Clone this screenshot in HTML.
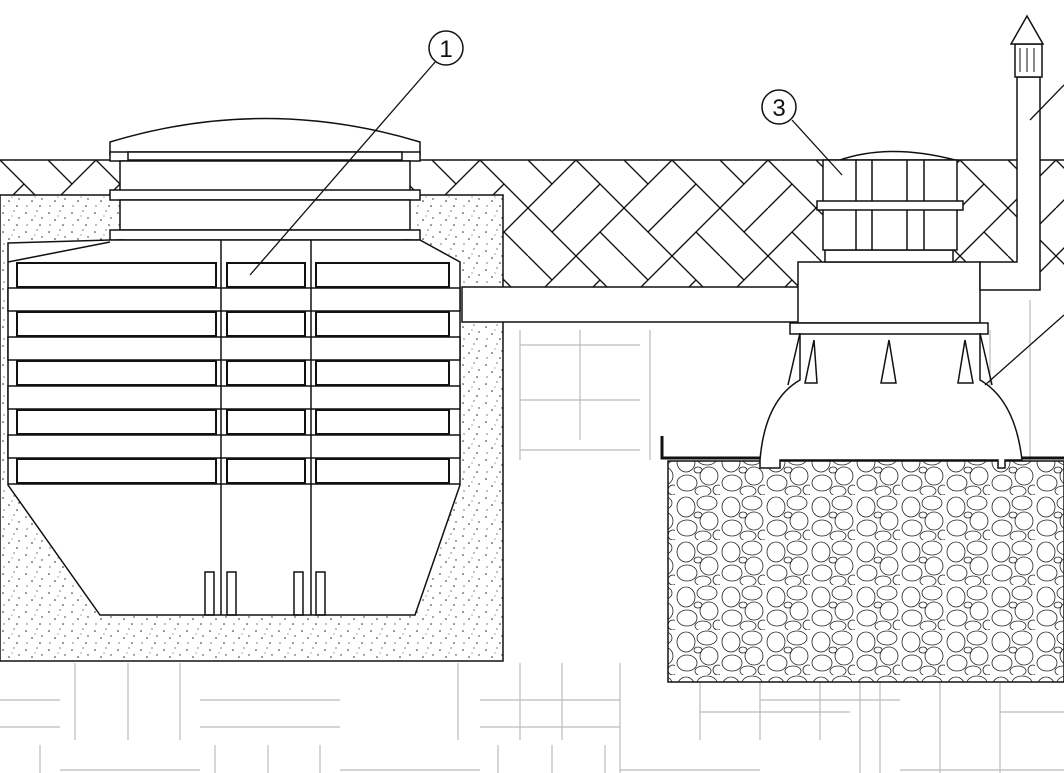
<!DOCTYPE html>
<html><head><meta charset="utf-8"><style>html,body{margin:0;padding:0;background:#fff}svg{display:block}</style></head>
<body>
<svg width="1064" height="773" viewBox="0 0 1064 773" xmlns="http://www.w3.org/2000/svg">
<defs>
<pattern id="herr" width="60" height="60" patternUnits="userSpaceOnUse" patternTransform="translate(0,160) scale(1.6)">
<g stroke="#111" stroke-width="0.85" fill="none">
<path d="M0 0 L30 30 L0 60 M30 30 L60 0 M30 30 L60 60 M15 15 L0 30 M45 15 L30 0 M45 45 L60 30 M15 45 L30 60"/>
</g>
</pattern>
<pattern id="dots" width="23" height="19" patternUnits="userSpaceOnUse">
<g fill="#222"><circle cx="3" cy="4" r="0.8"/><circle cx="14" cy="2" r="0.6"/><circle cx="9" cy="11" r="0.8"/><circle cx="19" cy="9" r="0.7"/><circle cx="4" cy="16" r="0.6"/><circle cx="17" cy="16" r="0.8"/><circle cx="12" cy="7" r="0.5"/></g>
</pattern>
<pattern id="stone" width="45" height="45" patternUnits="userSpaceOnUse">
<g stroke="#222" stroke-width="0.8" fill="none">
<ellipse cx="11" cy="12" rx="9" ry="10"/><ellipse cx="32" cy="8" rx="10" ry="7"/><ellipse cx="34" cy="26" rx="9" ry="9"/><ellipse cx="12" cy="33" rx="10" ry="8"/><ellipse cx="28" cy="41" rx="8" ry="5"/><ellipse cx="23" cy="20" rx="4" ry="3"/><ellipse cx="43" cy="40" rx="5" ry="5"/>
</g>
</pattern>
</defs>

<g stroke="#bbb" stroke-width="1.2">
<path d="M0 700H60M200 700H340M480 700H620M760 700H900M520 345H640M520 400H640M520 450H640M700 712H850M1000 712H1064M0 727H60M200 727H340M480 727H620M60 770H200M340 770H480M620 770H760M900 770H1064"/>
<path d="M75 663V740M128 663V740M180 663V740M458 663V740M520 663V740M562 663V740M620 663V773M700 682V740M760 682V740M820 682V740M880 682V773M40 745V773M215 745V773M268 745V773M320 745V773M498 745V773M552 745V773M605 745V773M650 330V460M580 330V440M520 330V460M860 682V773M940 682V773M1000 682V773M1030 300V460M990 330V460"/>
</g>

<rect x="0" y="160" width="1064" height="127" fill="url(#herr)"/>
<line x1="0" y1="160" x2="1064" y2="160" stroke="#111" stroke-width="1.5"/>

<rect x="0" y="195" width="503" height="466" fill="#fff"/>
<rect x="0" y="195" width="503" height="466" fill="url(#dots)" stroke="#111" stroke-width="1.5"/>

<rect x="462" y="287" width="340" height="35" fill="#fff" stroke="#111" stroke-width="1.5"/>

<g stroke="#111" stroke-width="1.5" fill="#fff">
<path d="M110 155 L110 142 Q265 95 420 142 L420 155 Z"/>
<rect x="110" y="152" width="310" height="9"/>
<rect x="128" y="152" width="274" height="8"/>
<rect x="120" y="161" width="290" height="30"/>
<rect x="110" y="190" width="310" height="10"/>
<rect x="120" y="200" width="290" height="30"/>
<rect x="110" y="230" width="310" height="10"/>
<rect x="118" y="240" width="6" height="10"/><rect x="403" y="240" width="6" height="10"/>
<path d="M8 243 L110 240 L420 240 L460 262 L460 485 L415 615 L100 615 L8 485 Z"/>
<path d="M8 262 L110 242" fill="none"/>
</g>
<g stroke="#111" stroke-width="1.5" fill="#fff">
<rect x="8" y="288" width="452" height="23"/>
<rect x="8" y="337" width="452" height="23"/>
<rect x="8" y="386" width="452" height="23"/>
<rect x="8" y="435" width="452" height="23"/>
</g>
<g stroke="#111" stroke-width="2" fill="#fff">
<rect x="17" y="263" width="199" height="24"/><rect x="227" y="263" width="78" height="24"/><rect x="316" y="263" width="133" height="24"/>
<rect x="17" y="312" width="199" height="24"/><rect x="227" y="312" width="78" height="24"/><rect x="316" y="312" width="133" height="24"/>
<rect x="17" y="361" width="199" height="24"/><rect x="227" y="361" width="78" height="24"/><rect x="316" y="361" width="133" height="24"/>
<rect x="17" y="410" width="199" height="24"/><rect x="227" y="410" width="78" height="24"/><rect x="316" y="410" width="133" height="24"/>
<rect x="17" y="459" width="199" height="24"/><rect x="227" y="459" width="78" height="24"/><rect x="316" y="459" width="133" height="24"/>
</g>
<g stroke="#111" stroke-width="1.5" fill="none">
<path d="M8 484 L460 484"/>
<line x1="221" y1="240" x2="221" y2="615"/><line x1="311" y1="240" x2="311" y2="615"/>
<rect x="205" y="572" width="9" height="43"/><rect x="227" y="572" width="9" height="43"/>
<rect x="294" y="572" width="9" height="43"/><rect x="316" y="572" width="9" height="43"/>
</g>

<line x1="436" y1="61" x2="250" y2="275" stroke="#111" stroke-width="1.3"/>
<circle cx="446" cy="48" r="17" fill="#fff" stroke="#111" stroke-width="1.5"/>
<text x="446" y="57" font-family="Liberation Sans, sans-serif" font-size="24" text-anchor="middle" fill="#111">1</text>

<rect x="668" y="461" width="396" height="221" fill="#fff"/>
<rect x="668" y="461" width="396" height="221" fill="url(#stone)" stroke="#111" stroke-width="1.5"/>

<g stroke="#111" stroke-width="1.5" fill="#fff">
<path d="M760 460 Q765 400 800 380 L800 333 L980 333 L980 380 Q1015 400 1022 460 L1005 460 L1005 468 L998 468 L998 460 L780 460 L780 468 L760 468 Z"/>
<rect x="798" y="262" width="182" height="61"/>
<rect x="790" y="323" width="198" height="11"/>
<rect x="825" y="250" width="128" height="12"/>
<path d="M840 160 Q890 143 955 160 Z"/>
<rect x="823" y="160" width="134" height="90"/>
<rect x="817" y="201" width="146" height="9"/>
</g>
<g stroke="#111" stroke-width="1.5" fill="none">
<path d="M856 160V201M872 160V201M907 160V201M924 160V201M856 210V250M872 210V250M907 210V250M924 210V250"/>
<path d="M814 340 L805 383 L817 383 Z M889 340 L881 383 L896 383 Z M965 340 L958 383 L973 383 Z"/>
<path d="M800 333 L788 385 M980 333 L992 385"/>
<path d="M662 436 L662 458 L760 458 M1022 458 L1064 458" stroke-width="3"/>
</g>

<g stroke="#111" stroke-width="1.5" fill="#fff">
<path d="M980 262 L1017 262 L1017 77 L1040 77 L1040 290 L980 290 Z"/>
<rect x="1015" y="44" width="27" height="33"/>
<path d="M1011 44 L1027 16 L1043 44 Z"/>
</g>
<g stroke="#111" stroke-width="1" fill="none"><path d="M1020 48V72M1027 48V72M1034 48V72"/></g>
<line x1="1030" y1="120" x2="1064" y2="85" stroke="#111" stroke-width="1.3"/>
<line x1="985" y1="385" x2="1064" y2="315" stroke="#111" stroke-width="1.3"/>

<line x1="792" y1="120" x2="842" y2="175" stroke="#111" stroke-width="1.3"/>
<circle cx="779" cy="107" r="17" fill="#fff" stroke="#111" stroke-width="1.5"/>
<text x="779" y="116" font-family="Liberation Sans, sans-serif" font-size="24" text-anchor="middle" fill="#111">3</text>
</svg>
</body></html>
